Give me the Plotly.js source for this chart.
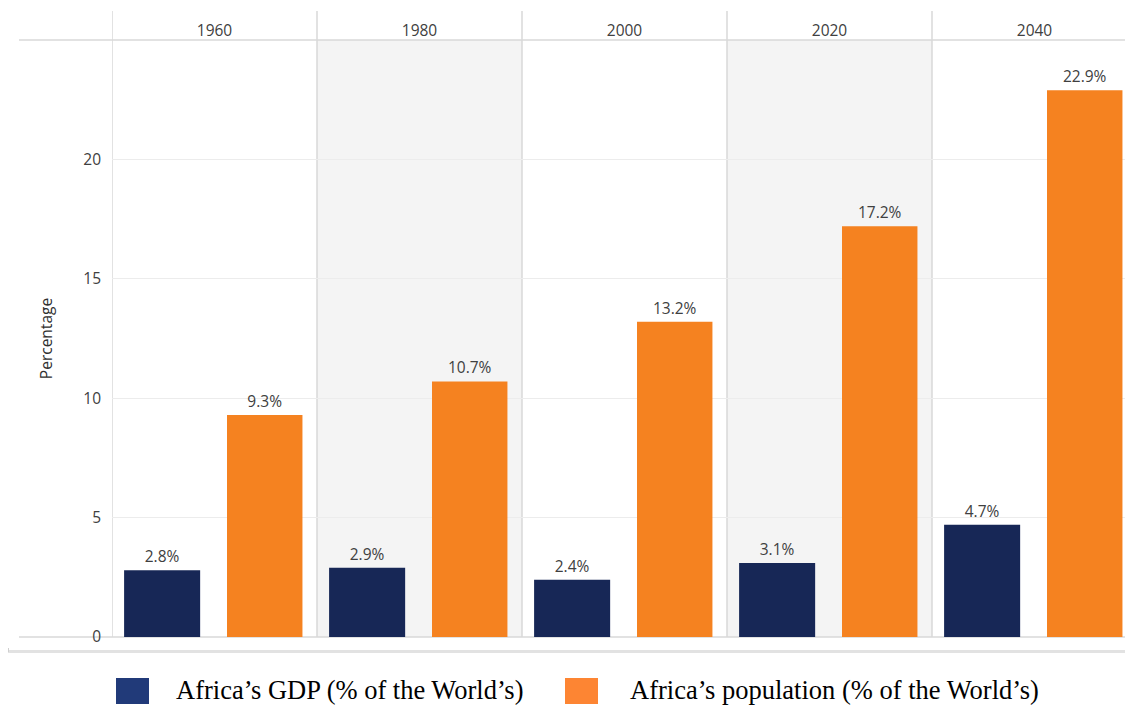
<!DOCTYPE html>
<html>
<head>
<meta charset="utf-8">
<script src="https://cdn.plot.ly/plotly-3.0.1.min.js"></script>
<style>
  html, body { margin: 0; padding: 0; background: #ffffff; }
  #chart { width: 1125px; height: 706px; }
</style>
</head>
<body>
<div id="chart"></div>
<script>
// Africa's share of world GDP and population, by year
const years = ['1960', '1980', '2000', '2020', '2040'];
const gdpShare = [2.8, 2.9, 2.4, 3.1, 4.7];
const populationShare = [9.3, 10.7, 13.2, 17.2, 22.9];
const seriesNames = ["Africa’s GDP (% of the World’s)", "Africa’s population (% of the World’s)"];
const yTicks = [0, 5, 10, 15, 20];

const navy = '#172756';
const orange = '#f58220';
const navyKey = '#213a79';
const orangeKey = '#fd8533';
const divider = '#d9d9d9';
const textGrey = '#404040';
const sans = 'Open Sans, sans-serif';
const labelFont = { family: sans, size: 15.5, color: textGrey };

const W = 1125, H = 706;
const margin = { l: 112, r: 0, t: 40, b: 69 };
const plotW = W - margin.l - margin.r;
const plotH = H - margin.t - margin.b;
const panelPx = 205;               // width of one year panel
const px2paperX = p => (p - margin.l) / plotW;
const px2paperY = p => (H - margin.b - p) / plotH;

const traces = [
  {
    type: 'bar', name: seriesNames[0], x: years, y: gdpShare,
    marker: { color: navy },
    width: 0.371, offset: -0.441,
    text: gdpShare.map(v => v.toFixed(1) + '%'),
    textposition: 'outside', textfont: labelFont, cliponaxis: false,
    showlegend: false, hoverinfo: 'x+y'
  },
  {
    type: 'bar', name: seriesNames[1], x: years, y: populationShare,
    marker: { color: orange },
    width: 0.368, offset: 0.061,
    text: populationShare.map(v => v.toFixed(1) + '%'),
    textposition: 'outside', textfont: labelFont, cliponaxis: false,
    showlegend: false, hoverinfo: 'x+y'
  }
];

const shapes = [];
// shaded panels (every second year)
years.forEach((y, i) => {
  if (i % 2 === 1) {
    shapes.push({ type: 'rect', layer: 'below', xref: 'x', yref: 'paper',
      x0: i - 0.5, x1: i + 0.5, y0: 0, y1: 1,
      fillcolor: '#f4f4f4', line: { width: 0 } });
  }
});
// panel dividers, running up into the header row
years.forEach((y, i) => {
  shapes.push({ type: 'line', layer: 'below', xref: 'x', yref: 'paper',
    x0: i - 0.5, x1: i - 0.5, y0: 0, y1: px2paperY(11),
    line: { color: divider, width: 1.5 } });
});
// header rule and baseline, extended left past the tick labels
[1, 0].forEach(yp => {
  shapes.push({ type: 'line', layer: 'below', xref: 'paper', yref: 'paper',
    x0: px2paperX(19), x1: 1, y0: yp, y1: yp,
    line: { color: divider, width: 1.5 } });
});
// bottom frame band
shapes.push({ type: 'line', xref: 'paper', yref: 'paper',
  x0: px2paperX(8), x1: 1, y0: px2paperY(651.5), y1: px2paperY(651.5),
  line: { color: '#e2e2e2', width: 3 } });
shapes.push({ type: 'line', xref: 'paper', yref: 'paper',
  x0: px2paperX(8.5), x1: px2paperX(8.5), y0: px2paperY(648), y1: px2paperY(652),
  line: { color: '#cfcfcf', width: 1 } });

// legend keys
const keys = [
  { color: navyKey, x0: 116, text: seriesNames[0], tx: 174 },
  { color: orangeKey, x0: 565, text: seriesNames[1], tx: 628 }
];
const annotations = [];
keys.forEach(k => {
  shapes.push({ type: 'rect', xref: 'paper', yref: 'paper',
    x0: px2paperX(k.x0), x1: px2paperX(k.x0 + 33),
    y0: px2paperY(704), y1: px2paperY(678),
    fillcolor: k.color, line: { width: 0 } });
  annotations.push({ xref: 'paper', yref: 'paper',
    x: px2paperX(k.tx), y: px2paperY(690), xanchor: 'left', yanchor: 'middle',
    text: k.text, showarrow: false,
    font: { family: 'Liberation Serif, Times New Roman, serif', size: 26.5, color: '#000000' } });
});

const layout = {
  width: W, height: H,
  margin: margin,
  paper_bgcolor: '#ffffff', plot_bgcolor: 'rgba(0,0,0,0)',
  barmode: 'overlay',
  showlegend: false,
  xaxis: {
    type: 'category', categoryorder: 'array', categoryarray: years,
    range: [-0.5, -0.5 + plotW / panelPx],
    side: 'top', showgrid: false, zeroline: false, showline: false,
    ticks: '', tickfont: { family: sans, size: 15.5, color: textGrey },
    fixedrange: true
  },
  yaxis: {
    range: [0, 25], tickvals: yTicks, ticktext: yTicks.map(String),
    showgrid: true, gridcolor: '#ececec', gridwidth: 1,
    zeroline: false, showline: false, ticks: '',
    ticklabelstandoff: 10,
    tickfont: { family: sans, size: 15.5, color: textGrey },
    title: { text: 'Percentage', standoff: 26,
      font: { family: sans, size: 15.5, color: '#303030' } },
    fixedrange: true
  },
  shapes: shapes,
  annotations: annotations
};

Plotly.newPlot('chart', traces, layout, { displayModeBar: false, staticPlot: true });
</script>
</body>
</html>
